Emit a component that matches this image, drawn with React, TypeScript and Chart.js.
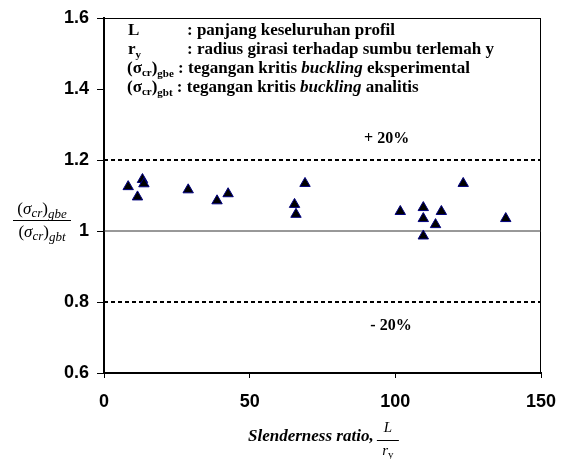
import React, { useEffect, useRef } from "react";
import { Chart, registerables } from "chart.js";

Chart.register(...registerables);

// ---- data ----
const slenderness = [8.3, 11.5, 13.2, 13.7, 28.9, 38.8, 42.6, 65.4, 65.9, 69.0, 101.7, 109.6, 109.6, 109.6, 113.8, 115.8, 123.3, 137.9];
const stressRatio = [1.125, 1.096, 1.145, 1.133, 1.116, 1.085, 1.105, 1.075, 1.047, 1.134, 1.055, 1.066, 1.035, 0.986, 1.018, 1.055, 1.134, 1.035];
const upperLimit = 1.2;
const unityLevel = 1.0;
const lowerLimit = 0.8;
const xRange = [0, 150];
const yRange = [0.6, 1.6];
const xTicks = [0, 50, 100, 150];
const xTickLabels = ["0", "50", "100", "150"];
const yTicks = [0.6, 0.8, 1, 1.2, 1.4, 1.6];
const yTickLabels = ["0.6", "0.8", "1", "1.2", "1.4", "1.6"];
const upperLabel = "+ 20%";
const lowerLabel = "- 20%";

type Run = { t: string; font: string; dy?: number };

function drawRuns(ctx: CanvasRenderingContext2D, x: number, y: number, runs: Run[], align: "left" | "center" = "left") {
  let total = 0;
  runs.forEach((r) => {
    ctx.font = r.font;
    total += ctx.measureText(r.t).width;
  });
  let cx = align === "center" ? x - total / 2 : x;
  for (const r of runs) {
    ctx.font = r.font;
    ctx.fillText(r.t, cx, y + (r.dy || 0));
    cx += ctx.measureText(r.t).width;
  }
  return total;
}

const SERIF = '"Liberation Serif", "Times New Roman", serif';
const SANS = '"Liberation Sans", Arial, sans-serif';

const framePlugin = {
  id: "frame",
  beforeDatasetsDraw(chart: any) {
    const { ctx, chartArea } = chart;
    ctx.save();
    ctx.strokeStyle = "#000";
    ctx.lineWidth = 1;
    ctx.strokeRect(chartArea.left, chartArea.top + 0.5, chartArea.right - chartArea.left - 0.5, chartArea.bottom - chartArea.top);
    ctx.restore();
  },
};

const textPlugin = {
  id: "texts",
  afterDraw(chart: any) {
    const { ctx } = chart;
    const xs = chart.scales.x;
    const ys = chart.scales.y;
    ctx.save();
    ctx.fillStyle = "#000";
    ctx.textBaseline = "alphabetic";
    ctx.textAlign = "left";

    const B = `bold 17px ${SERIF}`;
    const BS = `bold 11px ${SERIF}`;
    const BI = `italic bold 17px ${SERIF}`;
    const colX = 187;
    // legend block
    drawRuns(ctx, 128, 35, [{ t: "L", font: B }]);
    drawRuns(ctx, colX, 35, [{ t: ": panjang keseluruhan profil", font: B }]);
    drawRuns(ctx, 128, 54, [{ t: "r", font: B }, { t: "y", font: BS, dy: 4 }]);
    drawRuns(ctx, colX, 54, [{ t: ": radius girasi terhadap sumbu terlemah y", font: B }]);
    drawRuns(ctx, 127, 73, [
      { t: "(", font: B },
      { t: "σ", font: B },
      { t: "cr", font: BS, dy: 3 },
      { t: ")", font: B },
      { t: "gbe", font: BS, dy: 4 },
      { t: " : tegangan kritis ", font: B },
      { t: "buckling", font: BI },
      { t: " eksperimental", font: B },
    ]);
    drawRuns(ctx, 127, 92, [
      { t: "(", font: B },
      { t: "σ", font: B },
      { t: "cr", font: BS, dy: 3 },
      { t: ")", font: B },
      { t: "gbt", font: BS, dy: 4 },
      { t: " : tegangan kritis ", font: B },
      { t: "buckling", font: BI },
      { t: " analitis", font: B },
    ]);

    // +/- 20% labels
    const LB = `bold 16px ${SERIF}`;
    drawRuns(ctx, xs.getPixelForValue(97), ys.getPixelForValue(upperLimit) - 17, [{ t: upperLabel, font: LB }], "center");
    drawRuns(ctx, xs.getPixelForValue(98.5), ys.getPixelForValue(lowerLimit) + 28, [{ t: lowerLabel, font: LB }], "center");

    // y-axis title (fraction)
    const I = `italic 17px ${SERIF}`;
    const R = `17px ${SERIF}`;
    const IS = `italic 13px ${SERIF}`;
    const cy = ys.getPixelForValue(unityLevel);
    const fx = 42;
    drawRuns(ctx, fx, cy - 17, [
      { t: "(", font: R },
      { t: "σ", font: I },
      { t: "cr", font: IS, dy: 3 },
      { t: ")", font: R },
      { t: "gbe", font: IS, dy: 4 },
    ], "center");
    drawRuns(ctx, fx, cy + 6, [
      { t: "(", font: R },
      { t: "σ", font: I },
      { t: "cr", font: IS, dy: 3 },
      { t: ")", font: R },
      { t: "gbt", font: IS, dy: 4 },
    ], "center");
    ctx.strokeStyle = "#000";
    ctx.lineWidth = 1;
    ctx.beginPath();
    ctx.moveTo(13, cy - 10.5);
    ctx.lineTo(71, cy - 10.5);
    ctx.stroke();

    // x-axis title
    const BIx = `italic bold 17px ${SERIF}`;
    const w = drawRuns(ctx, 248, 441, [{ t: "Slenderness ratio, ", font: BIx }]);
    const fcx = 248 + w + 10;
    drawRuns(ctx, fcx, 432, [{ t: "L", font: `italic 15px ${SERIF}` }], "center");
    ctx.beginPath();
    ctx.moveTo(fcx - 11, 440.5);
    ctx.lineTo(fcx + 11, 440.5);
    ctx.stroke();
    drawRuns(ctx, fcx, 455, [
      { t: "r", font: `italic 15px ${SERIF}` },
      { t: "y", font: `11px ${SERIF}`, dy: 3 },
    ], "center");
    ctx.restore();
  },
};

export default function App() {
  const ref = useRef<HTMLCanvasElement | null>(null);

  useEffect(() => {
    if (!ref.current) return;
    document.body.style.margin = "0";
    const points = slenderness.map((x, i) => ({ x, y: stressRatio[i] }));
    const hLine = (v: number) => [
      { x: xRange[0], y: v },
      { x: xRange[1], y: v },
    ];
    const tickFont = { family: SANS, size: 18, weight: "bold" as const };
    const chart = new Chart(ref.current, {
      type: "scatter",
      data: {
        datasets: [
          {
            label: "ratio",
            data: points,
            pointStyle: "triangle",
            pointRadius: 6,
            pointHoverRadius: 6,
            backgroundColor: "#000",
            borderColor: "#000080",
            borderWidth: 1,
            order: 0,
          },
          {
            type: "line",
            label: "+20%",
            data: hLine(upperLimit),
            borderColor: "#000",
            borderWidth: 2,
            borderDash: [4, 3],
            pointRadius: 0,
            order: 1,
          },
          {
            type: "line",
            label: "unity",
            data: hLine(unityLevel),
            borderColor: "#333",
            borderWidth: 1,
            pointRadius: 0,
            order: 1,
          },
          {
            type: "line",
            label: "-20%",
            data: hLine(lowerLimit),
            borderColor: "#000",
            borderWidth: 2,
            borderDash: [4, 3],
            pointRadius: 0,
            order: 1,
          },
        ] as any,
      },
      options: {
        animation: false,
        responsive: false,
        devicePixelRatio: window.devicePixelRatio || 1,
        layout: { padding: { left: 0, top: 18, right: 25, bottom: 0 } },
        plugins: { legend: { display: false }, tooltip: { enabled: false } },
        events: [],
        scales: {
          x: {
            type: "linear",
            min: xRange[0],
            max: xRange[1],
            afterBuildTicks: (scale: any) => {
              scale.ticks = xTicks.map((v) => ({ value: v }));
            },
            afterFit: (scale: any) => {
              scale.height = 86;
              scale.paddingLeft = 0;
              scale.paddingRight = 0;
            },
            ticks: {
              color: "#000",
              font: tickFont,
              padding: 13,
              maxRotation: 0,
              callback: (_v: any, i: number) => xTickLabels[i],
            },
            grid: { display: true, drawOnChartArea: false, drawTicks: true, tickLength: 5, color: "#000", lineWidth: 1 },
            border: { display: true, color: "#000", width: 2 },
          },
          y: {
            type: "linear",
            min: yRange[0],
            max: yRange[1],
            afterBuildTicks: (scale: any) => {
              scale.ticks = yTicks.map((v) => ({ value: v }));
            },
            afterFit: (scale: any) => {
              scale.width = 104;
              scale.paddingTop = 0;
              scale.paddingBottom = 0;
            },
            ticks: {
              color: "#000",
              font: tickFont,
              padding: 8,
              callback: (_v: any, i: number) => yTickLabels[i],
            },
            grid: { display: true, drawOnChartArea: false, drawTicks: true, tickLength: 7, color: "#000", lineWidth: 1 },
            border: { display: true, color: "#000", width: 2 },
          },
        },
      } as any,
      plugins: [framePlugin, textPlugin],
    });
    return () => chart.destroy();
  }, []);

  return (
    <div style={{ position: "absolute", left: 0, top: 0, width: 566, height: 459, background: "#fff" }}>
      <canvas ref={ref} width={566} height={459} style={{ width: 566, height: 459, display: "block" }} />
    </div>
  );
}
